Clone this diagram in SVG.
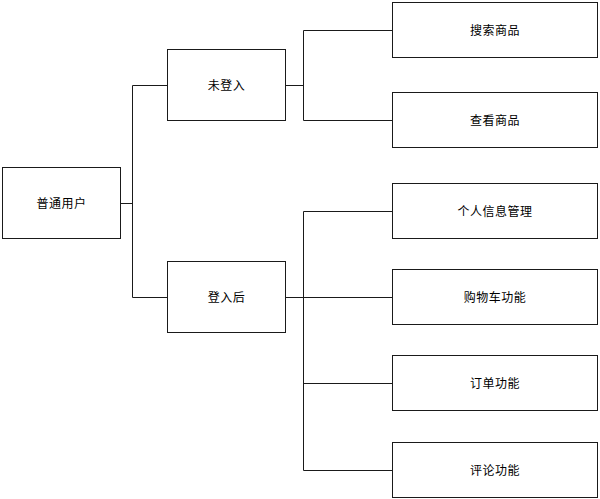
<svg xmlns="http://www.w3.org/2000/svg" width="600" height="499" viewBox="0 0 600 499">
<style>
.box{fill:#fff;stroke:#1a1a1a;stroke-width:1}
.t{font-family:"Noto Sans CJK SC","Liberation Sans",sans-serif;font-size:12px;fill:#000;text-anchor:middle;dominant-baseline:central;letter-spacing:0.5px}
.c{fill:none;stroke:#1a1a1a;stroke-width:1}
</style>
<rect width="600" height="499" fill="#fff"/>
<g id="connectors">
<path class="c" d="M120.5 203.5H132.5M132.5 85.5V297.5M132.5 85.5H167.5M132.5 297.5H167.5"/>
<path class="c" d="M285.5 85.5H303.5M303.5 30.5V120.5M303.5 30.5H392.5M303.5 120.5H392.5"/>
<path class="c" d="M285.5 297.5H392.5M303.5 211.5V470.5M303.5 211.5H392.5M303.5 383.5H392.5M303.5 470.5H392.5"/>
</g>
<g id="n-user"><rect class="box" x="2.5" y="167.5" width="118" height="71"/><text class="t" x="61.5" y="202">普通用户</text></g>
<g id="n-guest"><rect class="box" x="167.5" y="49.5" width="118" height="71"/><text class="t" x="226.5" y="84">未登入</text></g>
<g id="n-login"><rect class="box" x="167.5" y="261.5" width="118" height="71"/><text class="t" x="226.5" y="296">登入后</text></g>
<g id="n-search"><rect class="box" x="392.5" y="2.5" width="205" height="55"/><text class="t" x="495" y="29">搜索商品</text></g>
<g id="n-view"><rect class="box" x="392.5" y="92.5" width="205" height="55"/><text class="t" x="495" y="119">查看商品</text></g>
<g id="n-profile"><rect class="box" x="392.5" y="183.5" width="205" height="55"/><text class="t" x="495" y="210">个人信息管理</text></g>
<g id="n-cart"><rect class="box" x="392.5" y="269.5" width="205" height="55"/><text class="t" x="495" y="296">购物车功能</text></g>
<g id="n-order"><rect class="box" x="392.5" y="355.5" width="205" height="55"/><text class="t" x="495" y="382">订单功能</text></g>
<g id="n-review"><rect class="box" x="392.5" y="442.5" width="205" height="55"/><text class="t" x="495" y="469">评论功能</text></g>
</svg>
